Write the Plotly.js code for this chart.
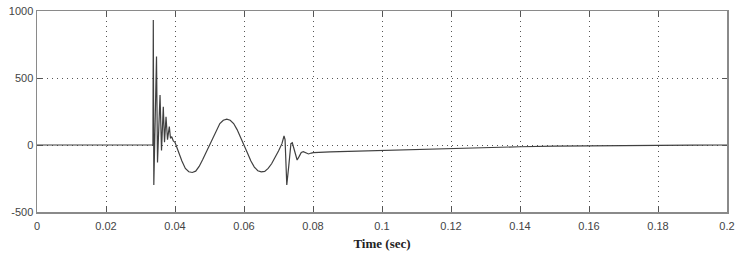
<!DOCTYPE html>
<html>
<head>
<meta charset="utf-8">
<script src="https://cdn.plot.ly/plotly-3.0.1.min.js"></script>
<style>html,body{margin:0;padding:0;background:#fff;}#chart{width:739px;height:257px;}</style>
</head>
<body>
<div id="chart"></div>
<script>
var timeSec = [0, 0.0336, 0.03371, 0.03386, 0.03464, 0.03493, 0.03566, 0.03609, 0.03661, 0.03696, 0.0374, 0.03783, 0.03835, 0.0387, 0.03905, 0.0395, 0.04, 0.0405,
  0.041, 0.042, 0.043, 0.044, 0.045, 0.046, 0.047, 0.048, 0.049, 0.05, 0.051, 0.052, 0.053, 0.054, 0.055, 0.056, 0.057, 0.058, 0.059, 0.06,
  0.061, 0.062, 0.063, 0.064, 0.065, 0.066, 0.067, 0.068, 0.069, 0.07, 0.071, 0.0716, 0.0719, 0.0724, 0.073, 0.0736, 0.074, 0.0745, 0.075, 0.0754,
  0.076, 0.0766, 0.0772, 0.078, 0.0787, 0.0795, 0.0801, 0.085, 0.09, 0.1, 0.11, 0.12, 0.13, 0.14, 0.15, 0.16, 0.17, 0.18, 0.19, 0.2];
var signal = [0, 0, 932, -298, 660, -130, 373, -40, 286, 20, 211, 40, 137, 50, 62, 30, 20, -10,
  -50, -120, -175, -200, -205, -195, -160, -110, -55, 0, 60, 115, 160, 185, 193, 185, 160, 115, 60, 0,
  -60, -120, -165, -192, -200, -197, -175, -140, -95, -45, 10, 67, 40, -298, -150, 10, 17, -30, -90, -112,
  -85, -55, -50, -62, -67, -60, -57, -52, -48, -40, -33, -27, -20, -13, -8, -5, -3, -2, -1, 0];
var xTicks = [0, 0.02, 0.04, 0.06, 0.08, 0.1, 0.12, 0.14, 0.16, 0.18, 0.2];
var xTickText = ['0', '0.02', '0.04', '0.06', '0.08', '0.1', '0.12', '0.14', '0.16', '0.18', '0.2'];
var yTicks = [-500, 0, 500, 1000];
var yTickText = ['-500', '0', '500', '1000'];

var trace = {
  x: timeSec, y: signal, type: 'scatter', mode: 'lines',
  line: {color: '#404040', width: 1.2}, hoverinfo: 'none'
};
var axisCommon = {
  showline: true, mirror: 'ticks', linecolor: '#8a8a8a', linewidth: 1.5,
  ticks: 'inside', ticklen: 5, tickcolor: '#555', tickwidth: 1,
  showgrid: true, gridcolor: '#555', griddash: '1px,4px', gridwidth: 1,
  zeroline: false, tickfont: {family: 'Liberation Sans Narrow, Arial Narrow, Liberation Sans, Arial', size: 11, color: '#444'}
};
var layout = {
  width: 739, height: 257,
  margin: {l: 37, r: 12, t: 11, b: 45},
  paper_bgcolor: '#fff', plot_bgcolor: '#fff',
  showlegend: false,
  xaxis: Object.assign({}, axisCommon, {
    range: [0, 0.2], tickmode: 'array', tickvals: xTicks, ticktext: xTickText, ticklabelstandoff: 3,
    title: {text: 'Time (sec)', font: {family: 'Liberation Serif, Times New Roman, serif', size: 13, color: '#222', weight: 'bold'}, standoff: 8}
  }),
  yaxis: Object.assign({}, axisCommon, {
    range: [-500, 1000], tickmode: 'array', tickvals: yTicks, ticktext: yTickText
  })
};
Plotly.newPlot('chart', [trace], layout, {displayModeBar: false, staticPlot: true});
</script>
</body>
</html>
